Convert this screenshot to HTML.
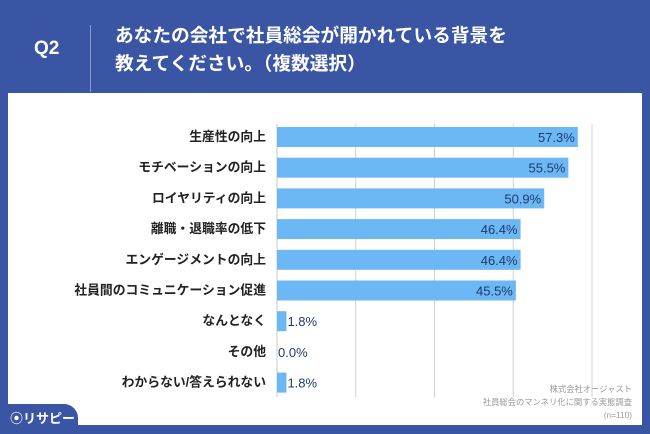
<!DOCTYPE html>
<html><head><meta charset="utf-8"><style>
body{margin:0;width:650px;height:434px;background:#3a55a4;overflow:hidden;font-family:"Liberation Sans","Noto Sans CJK JP",sans-serif;position:relative}
.q{position:absolute;left:34px;top:38px;color:#fff;font-size:19px;font-weight:bold}
.div{position:absolute;left:90px;top:25px;width:1px;height:67px;background:#8a9bcb}
.title{position:absolute;left:115px;top:22px;color:#fff;font-size:18.7px;line-height:28px;font-weight:bold;white-space:nowrap}
.panel{position:absolute;left:8px;top:93px;width:634px;height:332px;background:#fff}
.logo{position:absolute;left:0;top:404px;width:78px;height:30px;background:#3a55a4;border-top-right-radius:14px;color:#fff;font-size:13px;font-weight:bold;line-height:30px;padding-left:10px;box-sizing:border-box}
</style></head><body>
<div class="q">Q2</div>
<div class="div"></div>
<div class="title">あなたの会社で社員総会が開かれている背景を<br>教えてください。（複数選択）</div>
<div class="panel"></div>
<svg id="c" width="650" height="434" style="position:absolute;left:0;top:0"></svg>
<div class="logo">⦿リサピー</div>
<script>
const categories=["生産性の向上","モチベーションの向上","ロイヤリティの向上","離職・退職率の低下","エンゲージメントの向上","社員間のコミュニケーション促進","なんとなく","その他","わからない/答えられない"];
const values=[57.3,55.5,50.9,46.4,46.4,45.5,1.8,0.0,1.8];
const ticks=[15,30,45,60];
const ns="http://www.w3.org/2000/svg",svg=document.getElementById('c');
const x0=277,xs=315/60,y0=137,dy=30.7;
const X=v=>x0+v*xs, Y=i=>y0+i*dy;
function mk(t,a,txt){const e=document.createElementNS(ns,t);for(const k in a)e.setAttribute(k,a[k]);if(txt!=null)e.textContent=txt;svg.appendChild(e);return e;}
ticks.forEach(t=>{const l=mk('line',{x1:X(t),x2:X(t),y1:124,y2:397,stroke:'#d0d0d0','stroke-width':1});

});
const ax=mk('line',{x1:x0,x2:x0,y1:124,y2:397,stroke:'#c8c8c8','stroke-width':1});


categories.forEach((c,i)=>{
 const y=Y(i);
 const lb=mk('text',{x:266,y:y+4,'text-anchor':'end','font-size':12.8,'font-weight':'bold',fill:'#222'},c);
 
 
 const b=mk('rect',{x:x0,y:y-10,width:X(values[i])-x0,height:20,fill:'#6cb8f5'});
 
 
 const big=values[i]>10;
 const v=mk('text',{x:big?X(values[i])-3:X(values[i])+1,y:y+5,'text-anchor':big?'end':'start','font-size':13,fill:'#1e3a6e'},values[i].toFixed(1)+'%');
 
 
});
[["株式会社オージャスト",392],["社員総会のマンネリ化に関する実態調査",405],["(n=110)",418]].forEach(([t,y])=>{
 const s=mk('text',{x:632,y:y,'text-anchor':'end','font-size':8.3,fill:'#999'},t);
 
 
});
</script>
</body></html>
